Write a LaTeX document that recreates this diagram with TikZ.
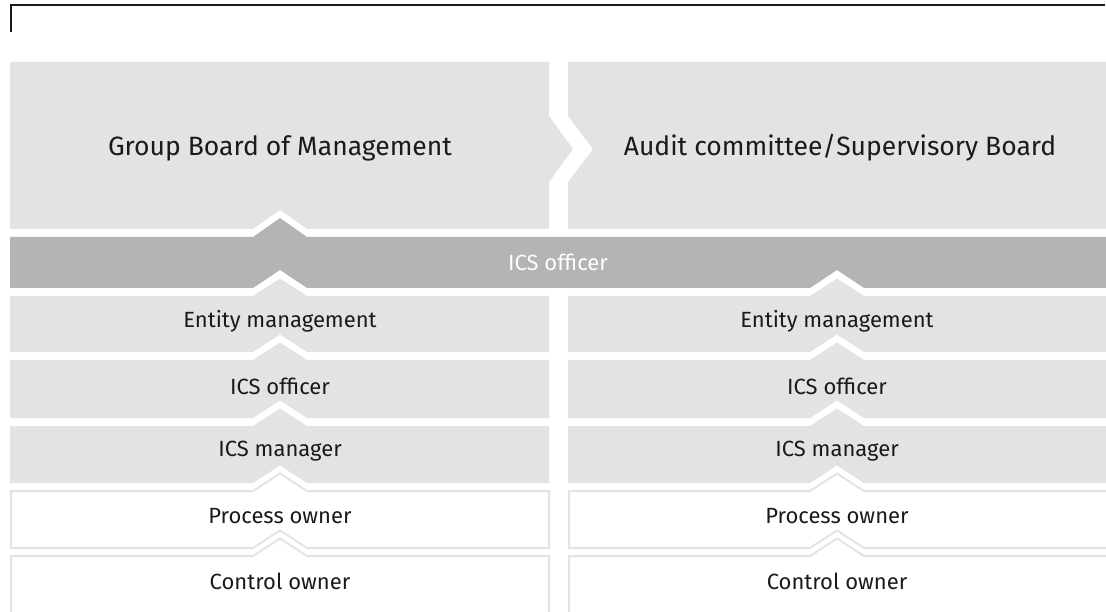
\documentclass[tikz,border=0pt]{standalone}
\usepackage{fontspec}
\setmainfont{Fira Sans}
\definecolor{boxgray}{HTML}{E3E3E3}
\definecolor{bargray}{HTML}{B3B4B5}
\definecolor{txt}{HTML}{1A1A1A}
\newcommand{\chevbox}[7]{% #1 style, #2 x1, #3 x2, #4 top, #5 bottom, #6 cx, #7 has bottom notch (1/0)
  \ifnum#7=1
    \path[#1] (#2,#4) -- (#6-27,#4) -- (#6,#4-17.5) -- (#6+27,#4) -- (#3,#4) -- (#3,#5)
      -- (#6+27,#5) -- (#6,#5-17.5) -- (#6-27,#5) -- (#2,#5) -- cycle;
  \else
    \path[#1] (#2,#4) -- (#6-27,#4) -- (#6,#4-17.5) -- (#6+27,#4) -- (#3,#4) -- (#3,#5)
      -- (#2,#5) -- cycle;
  \fi}
\begin{document}
\begin{tikzpicture}[x=1pt,y=-1pt,
  solidbox/.style={fill=boxgray},
  linebox/.style={draw=boxgray,line width=2pt,fill=white},
  bigtxt/.style={text=txt,font=\fontsize{26.5}{30}\selectfont,inner sep=0pt},
  rowtxt/.style={text=txt,font=\fontsize{22}{26}\selectfont,inner sep=0pt},
  bartxt/.style={text=white,font=\fontsize{22}{26}\selectfont,inner sep=0pt}]
\useasboundingbox (0,0) rectangle (1106,612);
% frame line
\draw[line width=2pt,txt] (10.5,32) -- (10.5,5.5) -- (1105,5.5);
% top boxes
\path[solidbox] (10,62) -- (549,62) -- (549,116) -- (573,149) -- (549,182) -- (549,229)
  -- (307,229) -- (280,210) -- (253,229) -- (10,229) -- cycle;
\path[solidbox] (568,62) -- (1106,62) -- (1106,229) -- (568,229) -- (568,182)
  -- (593,149) -- (568,116) -- cycle;
\node[bigtxt] (gbm) at (280,148) {Group Board of Management};
\node[bigtxt] (acsb) at (840,148) {Audit committee/Supervisory Board};
% ICS officer bar
\path[fill=bargray] (10,237) -- (253,237) -- (280,218) -- (307,237) -- (1106,237)
  -- (1106,288) -- (864,288) -- (837,270) -- (810,288) -- (307,288) -- (280,270)
  -- (253,288) -- (10,288) -- cycle;
\node[bartxt] (icsbar) at (558,262) {ICS officer};
% left column
\chevbox{solidbox}{10}{549}{296}{352}{280}{1}
\chevbox{solidbox}{10}{549}{360}{418}{280}{1}
\chevbox{solidbox}{10}{549}{426}{483}{280}{1}
\chevbox{linebox}{11}{549}{491}{548}{280}{1}
\chevbox{linebox}{11}{549}{556}{614}{280}{0}
% right column
\chevbox{solidbox}{568}{1106}{296}{352}{837}{1}
\chevbox{solidbox}{568}{1106}{360}{418}{837}{1}
\chevbox{solidbox}{568}{1106}{426}{483}{837}{1}
\chevbox{linebox}{569}{1107}{491}{548}{837}{1}
\chevbox{linebox}{569}{1107}{556}{614}{837}{0}
% texts
\node[rowtxt] (le) at (280,321) {Entity management};
\node[rowtxt] (lo) at (280,386) {ICS officer};
\node[rowtxt] (lm) at (280,451) {ICS manager};
\node[rowtxt] (lp) at (280,516) {Process owner};
\node[rowtxt] (lc) at (280,581) {Control owner};
\node[rowtxt] (re) at (837,321) {Entity management};
\node[rowtxt] (ro) at (837,386) {ICS officer};
\node[rowtxt] (rm) at (837,451) {ICS manager};
\node[rowtxt] (rp) at (837,516) {Process owner};
\node[rowtxt] (rc) at (837,581) {Control owner};
\end{tikzpicture}
\end{document}
